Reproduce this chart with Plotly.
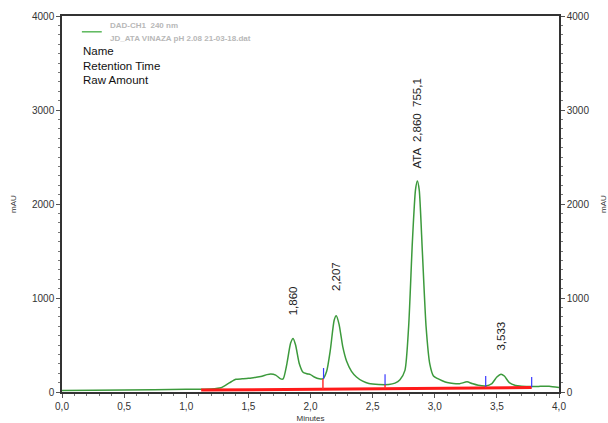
import plotly.graph_objects as go

# Chromatogram signal (minutes, mAU)
time_min = [0.0, 0.5, 1.0, 1.2, 1.28, 1.35, 1.4, 1.45, 1.5, 1.55, 1.6, 1.65, 1.68, 1.72, 1.76, 1.78,
            1.81, 1.84, 1.86, 1.88, 1.91, 1.94, 1.97, 2.0, 2.03, 2.07, 2.10, 2.13, 2.16, 2.19, 2.207,
            2.23, 2.26, 2.29, 2.33, 2.37, 2.42, 2.47, 2.55, 2.63, 2.68, 2.72, 2.76, 2.79, 2.82, 2.845,
            2.86, 2.875, 2.9, 2.93, 2.96, 2.99, 3.02, 3.06, 3.1, 3.15, 3.2, 3.26, 3.3, 3.35, 3.41,
            3.46, 3.5, 3.533, 3.56, 3.6, 3.65, 3.7, 3.78, 3.85, 3.92, 4.0]
signal_mau = [15, 22, 28, 32, 45, 100, 135, 140, 145, 155, 165, 185, 192, 180, 140, 140,
              300, 520, 570, 500, 300, 210, 195, 185, 160, 140, 140, 220, 450, 760, 810,
              720, 480, 330, 220, 160, 115, 90, 80, 80, 95, 130, 230, 700, 1600, 2150,
              2245, 2150, 1500, 700, 300, 170, 145, 120, 100, 90, 88, 108, 90, 72, 65,
              90, 160, 190, 170, 100, 70, 62, 58, 60, 62, 48]

# Integration baseline
baseline_t = [1.12, 3.78]
baseline_v = [20, 48]

# Peak boundaries (drop lines to baseline) and event marks
drop_t = [2.10, 2.60, 3.41]
drop_top = [140, 80, 65]
drop_bottom = [30, 38, 45]
event_t = [2.105, 2.60, 3.41, 3.78]
event_lo = [140, 75, 55, 50]
event_hi = [255, 190, 170, 160]

# Peak labels
peak_t = [1.860, 2.207, 2.860, 3.533]
peak_label_y = [790, 1050, 2360, 425]
peak_labels = ["1,860", "2,207", "ATA  2,860  755,1", "3,533"]

x_tickvals = [0.0, 0.5, 1.0, 1.5, 2.0, 2.5, 3.0, 3.5, 4.0]
x_ticktext = ["0,0", "0,5", "1,0", "1,5", "2,0", "2,5", "3,0", "3,5", "4,0"]
y_tickvals = [0, 1000, 2000, 3000, 4000]

FONT = "Liberation Sans, Arial, sans-serif"

fig = go.Figure()

fig.add_trace(go.Scatter(x=time_min, y=signal_mau, mode="lines",
                         line=dict(color="#3c9a3c", width=1.5, shape="spline", smoothing=0.6),
                         showlegend=False, hoverinfo="skip"))

fig.add_trace(go.Scatter(x=baseline_t, y=baseline_v, mode="lines",
                         line=dict(color="#ff1a1a", width=3), showlegend=False, hoverinfo="skip"))

for t, a, b in zip(drop_t, drop_top, drop_bottom):
    fig.add_trace(go.Scatter(x=[t, t], y=[a, b], mode="lines",
                             line=dict(color="#ff3333", width=1.5), showlegend=False, hoverinfo="skip"))

for t, a, b in zip(event_t, event_lo, event_hi):
    fig.add_trace(go.Scatter(x=[t, t], y=[a, b], mode="lines",
                             line=dict(color="#3a3aff", width=1.2), showlegend=False, hoverinfo="skip"))

# invisible trace on secondary axis to show right axis
fig.add_trace(go.Scatter(x=[0], y=[0], yaxis="y2", mode="markers", marker=dict(opacity=0),
                         showlegend=False, hoverinfo="skip"))

for t, y, s in zip(peak_t, peak_label_y, peak_labels):
    fig.add_annotation(x=t, y=y, text=s, textangle=-90, showarrow=False,
                       xanchor="center", yanchor="bottom",
                       font=dict(family=FONT, size=11.5, color="#222222"))

# Legend block
fig.add_shape(type="line", xref="paper", yref="paper", x0=0.04, x1=0.08, y0=0.958, y1=0.958,
              line=dict(color="#5cb85c", width=1.5))
fig.add_annotation(xref="paper", yref="paper", x=0.093, y=0.976, text="<b>DAD-CH1  240 nm</b>",
                   showarrow=False, xanchor="left", yanchor="middle",
                   font=dict(family=FONT, size=8, color="#b8b8b8"))
fig.add_annotation(xref="paper", yref="paper", x=0.093, y=0.941,
                   text="<b>JD_ATA VINAZA pH 2.08 21-03-18.dat</b>",
                   showarrow=False, xanchor="left", yanchor="middle",
                   font=dict(family=FONT, size=8, color="#b8b8b8"))
for i, s in enumerate(["Name", "Retention Time", "Raw Amount"]):
    fig.add_annotation(xref="paper", yref="paper", x=0.038, y=0.907 - i * 0.039, text=s,
                       showarrow=False, xanchor="left", yanchor="middle",
                       font=dict(family=FONT, size=11.5, color="#111111"))

axis_common = dict(showline=True, linecolor="#333333", linewidth=1.5, ticks="outside",
                   ticklen=4, tickcolor="#555555", showgrid=False, zeroline=False,
                   automargin=False,
                   tickfont=dict(family=FONT, size=10, color="#333333"))

fig.update_layout(
    width=608, height=423,
    margin=dict(l=62, r=49, t=16, b=31),
    paper_bgcolor="white", plot_bgcolor="white",
    font=dict(family=FONT),
    xaxis=dict(range=[0, 4], tickvals=x_tickvals, ticktext=x_ticktext, mirror=True,
               minor=dict(dtick=0.1, ticklen=2, tickcolor="#777777", ticks="outside"),
               title=dict(text="Minutes", font=dict(size=8, color="#333333"), standoff=12),
               **axis_common),
    yaxis=dict(range=[0, 4000], tickvals=y_tickvals,
               minor=dict(dtick=100, ticklen=2, tickcolor="#777777", ticks="outside"),
               title=dict(text="mAU", font=dict(size=8, color="#333333"), standoff=14),
               **axis_common),
    yaxis2=dict(range=[0, 4000], tickvals=y_tickvals, overlaying="y", side="right",
                minor=dict(dtick=100, ticklen=2, tickcolor="#777777", ticks="outside"),
                title=dict(text="mAU", font=dict(size=8, color="#333333"), standoff=14),
                **axis_common),
)

fig.write_html("out.html", config={"displayModeBar": False},
               post_script="document.body.style.margin='0';document.body.style.overflow='hidden';")
